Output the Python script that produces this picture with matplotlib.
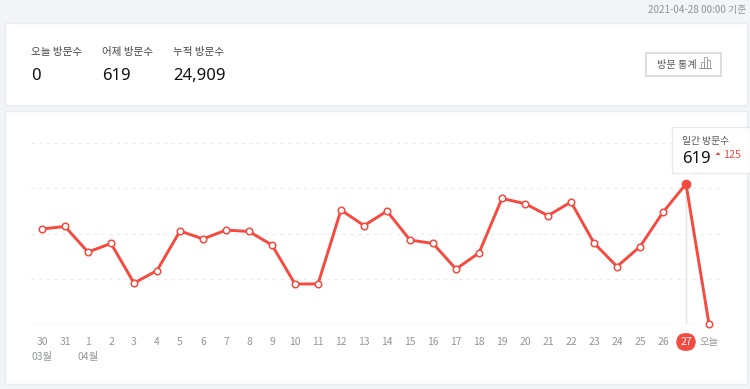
import matplotlib
matplotlib.use('Agg')
import matplotlib.pyplot as plt
from matplotlib.patches import Rectangle, Polygon

plt.rcParams['font.family'] = ['Noto Sans CJK KR', 'DejaVu Sans']

# data
days = ['30', '31', '1', '2', '3', '4', '5', '6', '7', '8', '9', '10', '11', '12', '13',
        '14', '15', '16', '17', '18', '19', '20', '21', '22', '23', '24', '25', '26', '27', '오늘']
visits = [420, 431, 318, 356, 181, 236, 411, 376, 415, 409, 349, 177, 177, 504, 435,
          499, 371, 356, 243, 314, 555, 532, 479, 539, 358, 254, 342, 494, 619, 0]
grid_vals = [200, 400, 600, 800]
stat_labels = ['오늘 방문수', '어제 방문수', '누적 방문수']
stat_values = ['0', '619', '24,909']
stat_x = [31, 102, 173]
month_labels = ['03월', '04월']
month_idx = [0, 2]

W, H = 750, 389
RED = '#f44a3f'

fig = plt.figure(figsize=(W / 100, H / 100), dpi=100, facecolor='#f2f4f7')

# overlay in pixel coordinates for the page parts
bg = fig.add_axes([0, 0, 1, 1], zorder=0)
bg.set_xlim(0, W)
bg.set_ylim(H, 0)
bg.axis('off')

for y0, y1 in [(23, 105), (111, 384)]:
    bg.add_patch(Rectangle((5, y0), 742, y1 - y0, fc='white', ec='#e9ecf0', lw=1))

bg.text(746, 9.5, '2021-04-28 00:00 기준', ha='right', va='center', fontsize=7.1, color='#8f9296')

for x, lab, val in zip(stat_x, stat_labels, stat_values):
    bg.text(x, 51.5, lab, ha='left', va='center', fontsize=7.6, color='#444444')
    bg.text(x, 76, val, ha='left', va='center', fontsize=12, color='#111111',
            family=['Noto Sans', 'DejaVu Sans'])

# button
bg.add_patch(Rectangle((646, 53), 75, 23, fc='white', ec='#d5d8de', lw=1.2))
bg.text(657, 64.5, '방문 통계', ha='left', va='center', fontsize=7.3, color='#555555')
for bx, bh in [(701, 6), (704, 11), (707, 8)]:
    bg.plot([bx, bx, bx + 3, bx + 3], [68, 68 - bh, 68 - bh, 68], color='#8a8a8a', lw=0.5)
bg.plot([699, 711], [68, 68], color='#8a8a8a', lw=0.6)

# chart axes, x runs on point index, y on visits
left, right, top, bottom = 31, 721, 143, 324
ax = fig.add_axes([left / W, 1 - bottom / H, (right - left) / W, (bottom - top) / H], zorder=1)
ax.patch.set_alpha(0)
ax.set_xlim(-11 / 23, 29 + 12 / 23)
ax.set_ylim(0, 800)
ax.axis('off')

for g in grid_vals:
    ax.axhline(g, color='#e9ebee', lw=0.8, dashes=(3, 4), zorder=1)
ax.axhline(0, color='#e6e8eb', lw=1, zorder=1)
ax.plot([28, 28], [0, visits[28]], color='#e3e5e8', lw=1, zorder=1)

ax.plot(range(len(visits)), visits, color=RED, lw=2.1, zorder=3, clip_on=False,
        solid_joinstyle='round')
others = [i for i in range(len(visits)) if i != 28]
ax.plot(others, [visits[i] for i in others], ls='none', marker='o', ms=4.7, mfc='white',
        mec=RED, mew=1.1, zorder=4, clip_on=False)
ax.plot([28], [visits[28]], ls='none', marker='o', ms=6, mfc=RED, mec=RED, zorder=5, clip_on=False)

# tick labels
for i, d in enumerate(days):
    if d == '27':
        continue
    ax.annotate(d, (i, 0), xytext=(0, -18), textcoords='offset pixels', ha='center', va='center',
                fontsize=7.5, color='#93969a', annotation_clip=False)
ax.annotate(days[28], (28, 0), xytext=(0, -18), textcoords='offset pixels', ha='center', va='center',
            fontsize=7.5, color='white', zorder=6, annotation_clip=False,
            bbox=dict(boxstyle='round,pad=0.3,rounding_size=0.8', fc=RED, ec=RED))
for i, m in zip(month_idx, month_labels):
    ax.annotate(m, (i, 0), xytext=(0, -33), textcoords='offset pixels', ha='center', va='center',
                fontsize=7.5, color='#93969a', annotation_clip=False)

# tooltip
top_ax = fig.add_axes([0, 0, 1, 1], zorder=2)
top_ax.set_xlim(0, W)
top_ax.set_ylim(H, 0)
top_ax.axis('off')
top_ax.add_patch(Rectangle((672, 127), 78, 46, fc='white', ec='#e6e8ec', lw=1))
top_ax.add_patch(Polygon([(681, 173.5), (691, 173.5), (686, 178)], fc='white', ec='none'))
top_ax.text(682, 141, '일간 방문수', ha='left', va='center', fontsize=7, color='#555555')
top_ax.text(682, 159, '619', ha='left', va='center', fontsize=12, color='#111111',
            family=['Noto Sans', 'DejaVu Sans'])
top_ax.add_patch(Polygon([(715.5, 155), (718, 152), (720.5, 155)], fc=RED, ec='none'))
top_ax.text(723, 155, '125', ha='left', va='center', fontsize=7.8, color=RED)

fig.savefig('out.png', dpi=100, facecolor=fig.get_facecolor())
